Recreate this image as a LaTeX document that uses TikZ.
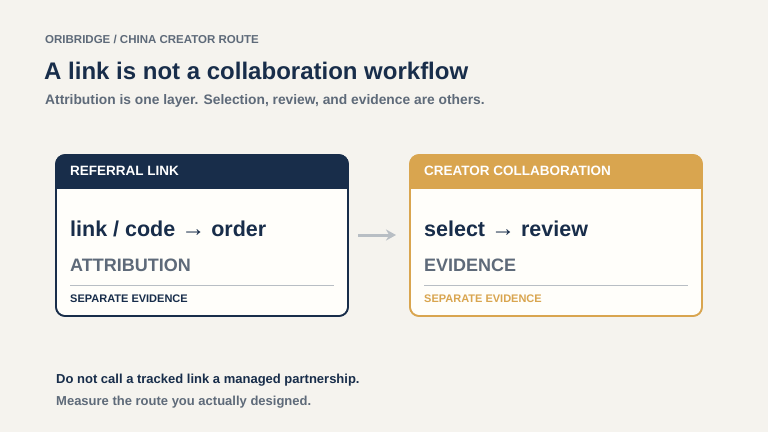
\documentclass[tikz,border=0pt]{standalone}
\usepackage{fontspec}
\setmainfont{Liberation Sans}
\usetikzlibrary{positioning,arrows.meta}
\definecolor{bgc}{HTML}{F5F3EE}
\definecolor{navy}{HTML}{182D4A}
\definecolor{slate}{HTML}{5E6A79}
\definecolor{gold}{HTML}{D9A54F}
\definecolor{card}{HTML}{FFFEFA}
\definecolor{rulec}{HTML}{B8BEC4}
\newcommand\bigarr{{\fontsize{24}{25}\selectfont→}}
\tikzset{
  lbl/.style={anchor=west,inner sep=0pt,font=\bfseries},
  cardbox/.style={draw=#1,line width=1.6pt,rounded corners=9pt,fill=card}
}
\begin{document}
\begin{tikzpicture}[x=1pt,y=-1pt]
\useasboundingbox[fill=bgc] (0,0) rectangle (768,432);

% header
\node[lbl,text=slate,font=\bfseries\fontsize{11.5}{13}\selectfont] (kicker) at (45,39) {ORIBRIDGE / CHINA CREATOR ROUTE};
\node[lbl,text=navy,font=\bfseries\fontsize{24}{27}\selectfont] (title) at (44,71) {A link is not a collaboration workflow};
\node[lbl,text=slate,font=\bfseries\fontsize{13.8}{16}\selectfont] (sub) at (45,101) {Attribution is one layer. Selection, review, and evidence are others.};

% cards
\foreach \x/\c/\head/\main/\layer/\tc in {56/navy/{REFERRAL LINK}/{link / code \bigarr{} order}/ATTRIBUTION/navy,
                                          410/gold/{CREATOR COLLABORATION}/{select \bigarr{} review}/EVIDENCE/gold}{
  \draw[cardbox=\c] (\x,155) rectangle ++(292,161);
  \begin{scope}
    \clip[rounded corners=9pt] (\x,155) rectangle ++(292,161);
    \fill[\c] (\x,155) rectangle ++(292,34);
  \end{scope}
  \draw[\c,line width=1.6pt,rounded corners=9pt] (\x,155) rectangle ++(292,161);
  \node[lbl,text=white,font=\bfseries\fontsize{13.5}{15}\selectfont] at (\x+14,171) {\head};
  \node[lbl,text=navy,font=\bfseries\fontsize{21.5}{25}\selectfont] at (\x+14,229) {\main};
  \node[lbl,text=slate,font=\bfseries\fontsize{18}{20}\selectfont] at (\x+14,265) {\layer};
  \draw[rulec,line width=0.8pt] (\x+14,285) -- ++(264,0);
  \node[lbl,text=\tc,font=\bfseries\fontsize{11}{12}\selectfont] at (\x+14,299) {SEPARATE EVIDENCE};
}

% arrow
\coordinate (arrA) at (358,235);
\coordinate (arrB) at (396,235);
\draw[rulec,line width=3pt,-{Stealth[length=10pt,width=11pt]}] (arrA) -- (arrB);

% footer
\node[lbl,text=navy,font=\bfseries\fontsize{13}{15}\selectfont] (note) at (56,380) {Do not call a tracked link a managed partnership.};
\node[lbl,text=slate,font=\bfseries\fontsize{13}{15}\selectfont] (note2) at (56,402) {Measure the route you actually designed.};
\end{tikzpicture}
\end{document}
